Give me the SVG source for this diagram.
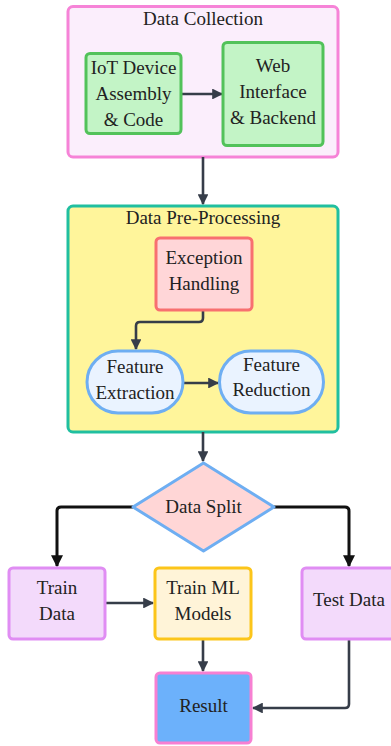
<svg xmlns="http://www.w3.org/2000/svg" width="391" height="746" viewBox="0 0 391 746">
  <defs>
    <marker id="arr" viewBox="0 0 10 10" refX="9" refY="5" markerWidth="4.2" markerHeight="4.2" orient="auto" markerUnits="strokeWidth">
      <path d="M0,0 L10,5 L0,10 z" fill="#363d49"/>
    </marker>
    <marker id="arrk" viewBox="0 0 10 10" refX="9" refY="5" markerWidth="4" markerHeight="4" orient="auto" markerUnits="strokeWidth">
      <path d="M0,0 L10,5 L0,10 z" fill="#111"/>
    </marker>
    <style>
      text { font-family: "Liberation Serif", "DejaVu Serif", serif; font-size: 19px; fill: #222; text-anchor: middle; }
      .edge { fill: none; stroke: #363d49; stroke-width: 2.6; stroke-linejoin: round; marker-end: url(#arr); }
      .edgek { fill: none; stroke: #111; stroke-width: 3; stroke-linejoin: round; marker-end: url(#arrk); }
      .green { fill: #c3f4c6; stroke: #52c25a; stroke-width: 3; }
      .stadium { fill: #eaf3ff; stroke: #6eaef2; stroke-width: 3; }
      .lilac { fill: #f3dafb; stroke: #e08df3; stroke-width: 3; }
    </style>
  </defs>

  <!-- clusters -->
  <g id="cluster-collection">
    <rect x="68" y="6.5" width="270" height="150.5" rx="5" fill="#fbeefc" stroke="#f683d7" stroke-width="3"/>
    <text x="203" y="25">Data Collection</text>
  </g>
  <g id="cluster-preprocessing">
    <rect x="68" y="206" width="270" height="226" rx="5" fill="#fff59b" stroke="#20bfa0" stroke-width="3"/>
    <text x="203" y="224">Data Pre-Processing</text>
  </g>

  <!-- connectors -->
  <g id="connectors">
    <path class="edge" d="M181,94 L222,94"/>
    <path class="edge" d="M203,157 L203,204"/>
    <path class="edge" d="M203,310 L203,318 Q203,322 199,322 L140,322 Q136,322 136,326 L136,349"/>
    <path class="edge" d="M183,383 L218,383"/>
    <path class="edge" d="M203,432 L203,461"/>
    <path class="edgek" d="M133,507 L61,507 Q57,507 57,511 L57,566"/>
    <path class="edgek" d="M274,507 L345,507 Q349,507 349,511 L349,566"/>
    <path class="edge" d="M105,603 L153,603"/>
    <path class="edge" d="M203,639 L203,671"/>
    <path class="edge" d="M349,639 L349,704 Q349,708 345,708 L253,708"/>
  </g>

  <!-- nodes -->
  <g id="iot">
    <rect class="green" x="86" y="53.5" width="95" height="80" rx="4"/>
    <text x="133.5" y="74">IoT Device</text>
    <text x="133.5" y="100">Assembly</text>
    <text x="133.5" y="126">&amp; Code</text>
  </g>
  <g id="web">
    <rect class="green" x="223" y="42.5" width="100" height="103" rx="4"/>
    <text x="273" y="72">Web</text>
    <text x="273" y="98">Interface</text>
    <text x="273" y="124">&amp; Backend</text>
  </g>
  <g id="exception">
    <rect x="156" y="238" width="96" height="72" rx="4" fill="#ffd6d8" stroke="#f87070" stroke-width="3"/>
    <text x="204" y="264">Exception</text>
    <text x="204" y="290">Handling</text>
  </g>
  <g id="extraction">
    <rect class="stadium" x="87" y="351" width="96" height="62" rx="31"/>
    <text x="135" y="373">Feature</text>
    <text x="135" y="399">Extraction</text>
  </g>
  <g id="reduction">
    <rect class="stadium" x="219.5" y="351" width="104" height="62" rx="31"/>
    <text x="271.5" y="371">Feature</text>
    <text x="271.5" y="396">Reduction</text>
  </g>
  <g id="split">
    <polygon points="203.5,463 274,507 203.5,551 133,507" fill="#ffd6d6" stroke="#6eaef2" stroke-width="3" stroke-linejoin="round"/>
    <text x="203.5" y="513">Data Split</text>
  </g>
  <g id="train-data">
    <rect class="lilac" x="9" y="568" width="96" height="71" rx="4"/>
    <text x="57" y="594">Train</text>
    <text x="57" y="620">Data</text>
  </g>
  <g id="train-models">
    <rect x="155" y="568" width="96" height="71" rx="4" fill="#fff4d8" stroke="#fcc51a" stroke-width="3"/>
    <text x="203" y="594">Train ML</text>
    <text x="203" y="620">Models</text>
  </g>
  <g id="test-data">
    <rect class="lilac" x="302" y="568" width="94" height="71" rx="4"/>
    <text x="349" y="606">Test Data</text>
  </g>
  <g id="result">
    <rect x="156" y="673" width="95" height="70" rx="4" fill="#6cb1fb" stroke="#f780d2" stroke-width="3"/>
    <text x="203.5" y="712">Result</text>
  </g>
</svg>
